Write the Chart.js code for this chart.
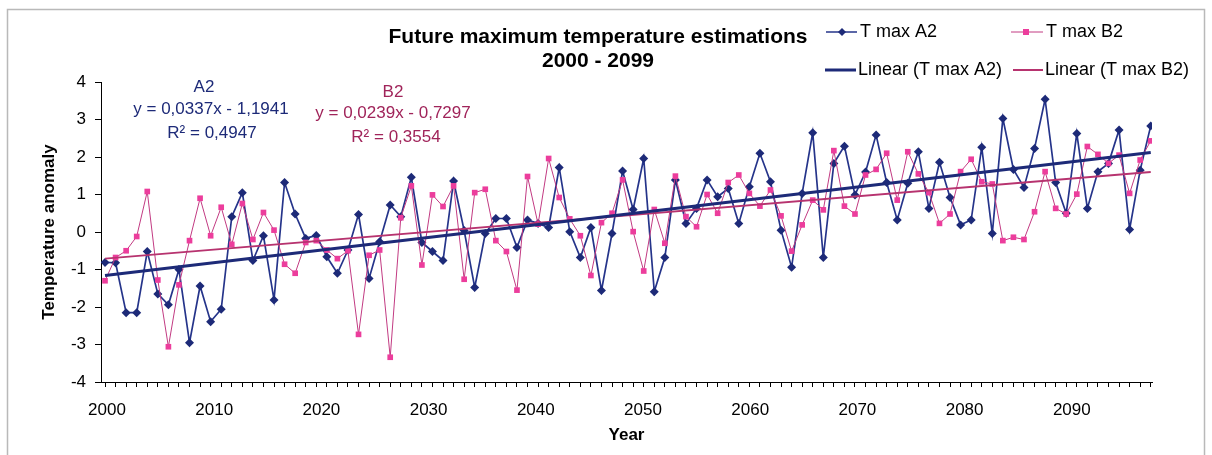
<!DOCTYPE html>
<html>
<head>
<meta charset="utf-8">
<title>Future maximum temperature estimations</title>
<script src="https://cdn.jsdelivr.net/npm/chart.js@4.4.1/dist/chart.umd.min.js"></script>
<style>
  body { margin: 0; background: #fff; }
  canvas { display: block; }
</style>
</head>
<body>
<canvas id="chart" width="1212" height="455"></canvas>
<script>
// years 2000 - 2099
const years = [];
for (let y = 2000; y <= 2099; y++) years.push(y);

// T max A2
const a2Values = [
  -0.81, -0.82, -2.15, -2.15, -0.52, -1.65, -1.94, -1.00, -2.95, -1.44,
  -2.39, -2.06, 0.41, 1.05, -0.76, -0.10, -1.81, 1.32, 0.48, -0.17,
  -0.09, -0.66, -1.10, -0.48, 0.47, -1.24, -0.26, 0.72, 0.41, 1.46,
  -0.28, -0.52, -0.76, 1.36, 0.04, -1.48, -0.04, 0.36, 0.36, -0.41,
  0.32, 0.23, 0.12, 1.72, 0.01, -0.68, 0.12, -1.56, -0.04, 1.63,
  0.60, 1.96, -1.59, -0.68, 1.39, 0.23, 0.63, 1.39, 0.94, 1.16,
  0.23, 1.21, 2.10, 1.34, 0.05, -0.94, 1.03, 2.65, -0.68, 1.83,
  2.29, 0.99, 1.60, 2.59, 1.32, 0.32, 1.30, 2.14, 0.63, 1.86,
  0.92, 0.19, 0.32, 2.26, -0.04, 3.03, 1.67, 1.19, 2.23, 3.54,
  1.32, 0.50, 2.63, 0.63, 1.61, 1.83, 2.72, 0.07, 1.65, 2.83
];

// T max B2
const b2Values = [
  -1.30, -0.68, -0.50, -0.12, 1.08, -1.28, -3.06, -1.41, -0.23, 0.90,
  -0.10, 0.66, -0.33, 0.76, -0.20, 0.52, 0.05, -0.86, -1.10, -0.28,
  -0.23, -0.48, -0.71, -0.50, -2.73, -0.62, -0.48, -3.34, 0.38, 1.23,
  -0.88, 0.99, 0.68, 1.23, -1.26, 1.05, 1.14, -0.23, -0.52, -1.55,
  1.48, 0.21, 1.96, 0.92, 0.35, -0.10, -1.16, 0.25, 0.50, 1.39,
  0.01, -1.04, 0.60, -0.30, 1.49, 0.41, 0.14, 1.00, 0.50, 1.32,
  1.52, 1.03, 0.69, 1.12, 0.43, -0.51, 0.19, 0.85, 0.59, 2.17,
  0.69, 0.48, 1.52, 1.67, 2.10, 0.85, 2.14, 1.55, 1.05, 0.23,
  0.48, 1.61, 1.94, 1.34, 1.28, -0.23, -0.14, -0.20, 0.54, 1.61,
  0.63, 0.48, 1.01, 2.28, 2.07, 1.83, 2.05, 1.03, 1.92, 2.43
];

// linear trend end points, as drawn in the picture
const trendYears = [2000, 2099];
const trendA2 = [-1.16, 2.12];
const trendB2 = [-0.71, 1.60];

const titleLines = ["Future maximum temperature estimations", "2000 - 2099"];
const legendLabels = ["T max A2", "T max B2", "Linear (T max A2)", "Linear (T max B2)"];
const a2Notes = ["A2", "y = 0,0337x - 1,1941", "R\u00B2 = 0,4947"];
const b2Notes = ["B2", "y = 0,0239x - 0,7297", "R\u00B2 = 0,3554"];

const FONT = "'Liberation Sans', Arial, sans-serif";
const NAVY = "#1d2a78";
const A2_LINE = "#25348a";
const PINK = "#ec3d9c";
const PINK_LINE = "#c23a82";
const B2_TREND = "#b7336f";
const B2_TEXT = "#a0245a";

const toPoints = (xs, ys) => xs.map((x, i) => ({ x: x, y: ys[i] }));

function diamond(ctx, x, y, r, color) {
  ctx.fillStyle = color;
  ctx.beginPath();
  ctx.moveTo(x, y - r);
  ctx.lineTo(x + r, y);
  ctx.lineTo(x, y + r);
  ctx.lineTo(x - r, y);
  ctx.closePath();
  ctx.fill();
}

const overlay = {
  id: "overlay",
  afterDraw(chart) {
    const ctx = chart.ctx;
    ctx.save();

    // outer frame
    ctx.strokeStyle = "#b9b9b9";
    ctx.lineWidth = 1.5;
    ctx.strokeRect(7.5, 9.5, 1197, 470);

    // title
    ctx.fillStyle = "#000";
    ctx.textAlign = "center";
    ctx.textBaseline = "middle";
    ctx.font = "bold 21px " + FONT;
    ctx.fillText(titleLines[0], 598, 37);
    ctx.fillText(titleLines[1], 598, 61);

    // legend
    ctx.textAlign = "left";
    ctx.font = "18px " + FONT;
    ctx.lineWidth = 1.5;
    ctx.strokeStyle = A2_LINE;
    ctx.beginPath(); ctx.moveTo(826, 32); ctx.lineTo(857, 32); ctx.stroke();
    diamond(ctx, 842, 32, 4, NAVY);
    ctx.fillStyle = "#000";
    ctx.fillText(legendLabels[0], 860, 32);

    ctx.strokeStyle = PINK_LINE;
    ctx.lineWidth = 1;
    ctx.beginPath(); ctx.moveTo(1011, 32); ctx.lineTo(1043, 32); ctx.stroke();
    ctx.fillStyle = PINK;
    ctx.fillRect(1023, 29, 6, 6);
    ctx.fillStyle = "#000";
    ctx.fillText(legendLabels[1], 1046, 32);

    ctx.strokeStyle = NAVY;
    ctx.lineWidth = 3;
    ctx.beginPath(); ctx.moveTo(825, 70); ctx.lineTo(856, 70); ctx.stroke();
    ctx.fillText(legendLabels[2], 858, 70);

    ctx.strokeStyle = B2_TREND;
    ctx.lineWidth = 2;
    ctx.beginPath(); ctx.moveTo(1013, 70); ctx.lineTo(1043, 70); ctx.stroke();
    ctx.fillText(legendLabels[3], 1045, 70);

    // trend equations
    ctx.textAlign = "center";
    ctx.font = "17px " + FONT;
    ctx.fillStyle = NAVY;
    ctx.fillText(a2Notes[0], 204, 87);
    ctx.fillText(a2Notes[1], 211, 109);
    ctx.fillText(a2Notes[2], 212, 133);
    ctx.fillStyle = B2_TEXT;
    ctx.fillText(b2Notes[0], 393, 92);
    ctx.fillText(b2Notes[1], 393, 113);
    ctx.fillText(b2Notes[2], 396, 137);

    ctx.restore();
  }
};

new Chart(document.getElementById("chart"), {
  type: "line",
  data: {
    datasets: [
      {
        label: legendLabels[2],
        data: toPoints(trendYears, trendA2),
        borderColor: NAVY,
        borderWidth: 3,
        pointRadius: 0,
        order: 0
      },
      {
        label: legendLabels[3],
        data: toPoints(trendYears, trendB2),
        borderColor: B2_TREND,
        borderWidth: 2,
        pointRadius: 0,
        order: 1
      },
      {
        label: legendLabels[1],
        data: toPoints(years, b2Values),
        borderColor: PINK_LINE,
        borderWidth: 1,
        pointStyle: "rect",
        pointRadius: 4,
        pointBackgroundColor: PINK,
        pointBorderColor: PINK,
        pointBorderWidth: 0,
        order: 2
      },
      {
        label: legendLabels[0],
        data: toPoints(years, a2Values),
        borderColor: A2_LINE,
        borderWidth: 1.7,
        pointStyle: "rectRot",
        pointRadius: 4.5,
        pointBackgroundColor: NAVY,
        pointBorderColor: NAVY,
        pointBorderWidth: 0,
        order: 3
      }
    ]
  },
  options: {
    responsive: false,
    animation: false,
    events: [],
    layout: {
      padding: { top: 82, right: 60, bottom: 9, left: 39 }
    },
    plugins: {
      legend: { display: false },
      title: { display: false },
      tooltip: { enabled: false }
    },
    elements: {
      line: { tension: 0, fill: false }
    },
    scales: {
      // data axis: one small tick per year
      x: {
        type: "linear",
        position: "bottom",
        weight: 0,
        min: 1999.62,
        max: 2099.12,
        afterFit: (scale) => { scale.height = 5; },
        grid: { display: true, drawOnChartArea: false, tickLength: 5, color: "#000" },
        border: { color: "#000", width: 1 },
        ticks: {
          display: false,
          stepSize: 1,
          includeBounds: false,
          autoSkip: false
        }
      },
      // label axis: decade labels placed as on the original category axis
      xLabels: {
        type: "linear",
        position: "bottom",
        weight: 1,
        min: 1999.44,
        max: 2097.48,
        afterFit: (scale) => { scale.height = 59; },
        grid: { display: false, drawTicks: false },
        border: { display: false },
        ticks: {
          stepSize: 10,
          includeBounds: false,
          autoSkip: false,
          maxRotation: 0,
          padding: 13,
          color: "#000",
          font: { family: FONT, size: 17 },
          callback: (v) => String(v)
        },
        title: {
          display: true,
          text: "Year",
          color: "#000",
          font: { family: FONT, size: 17, weight: "bold" },
          padding: { top: 0, bottom: 0 }
        }
      },
      y: {
        min: -4,
        max: 4,
        afterFit: (scale) => { scale.width = 62; },
        grid: { display: true, drawOnChartArea: false, tickLength: 6, color: "#000" },
        border: { color: "#000", width: 1 },
        ticks: {
          stepSize: 1,
          padding: 9,
          color: "#000",
          font: { family: FONT, size: 17 }
        },
        title: {
          display: true,
          text: "Temperature anomaly",
          color: "#000",
          font: { family: FONT, size: 17, weight: "bold" },
          padding: { top: 0, bottom: 0 }
        }
      }
    }
  },
  plugins: [overlay]
});
</script>
</body>
</html>
